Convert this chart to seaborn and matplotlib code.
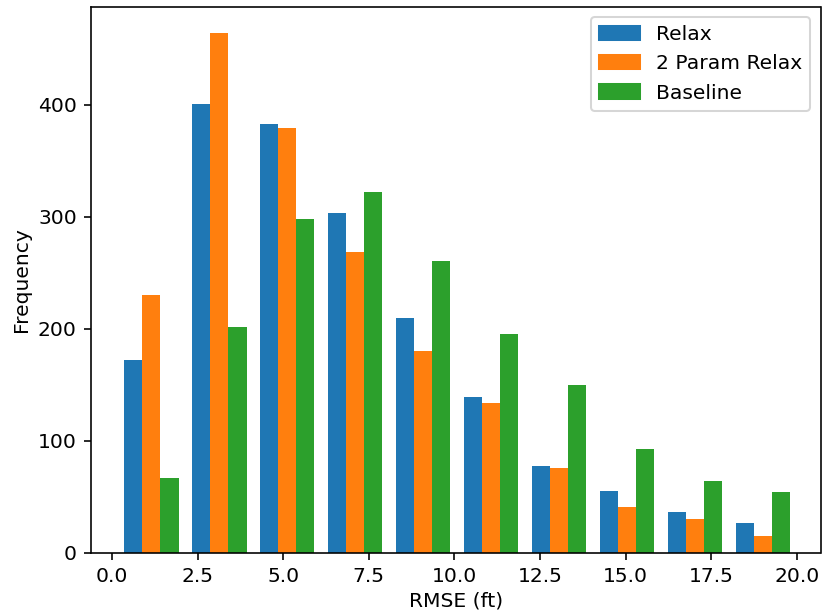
import numpy as np
import pandas as pd
import matplotlib
matplotlib.use("Agg")
import matplotlib.pyplot as plt
import matplotlib.patches as mpatches
import seaborn as sns

# ---- data ----
series_names = ["Relax", "2 Param Relax", "Baseline"]
bin_range = (0.16, 20.0)
n_bins = 10
relax = [172, 401, 383, 303, 210, 139, 78, 55, 37, 27]
two_param_relax = [230, 464, 379, 269, 180, 134, 76, 41, 30, 15]
baseline = [67, 202, 298, 322, 261, 195, 150, 93, 64, 54]
colors = ["#1f77b4", "#ff7f0e", "#2ca02c"]

bin_edges = np.linspace(bin_range[0], bin_range[1], n_bins + 1)
centers = (bin_edges[:-1] + bin_edges[1:]) / 2
rows = []
for name, vals in zip(series_names, [relax, two_param_relax, baseline]):
    for c, v in zip(centers, vals):
        rows.append({"rmse": c, "count": v, "series": name})
df = pd.DataFrame(rows)

dpi = 146
fig = plt.figure(figsize=(822 / dpi, 614 / dpi), dpi=dpi)
ax = fig.add_axes([91 / 822, 61 / 614, 729.5 / 822, 546 / 614])

sns.histplot(data=df, x="rmse", weights="count", hue="series",
             hue_order=series_names, palette=colors, bins=n_bins,
             binrange=bin_range,
             multiple="dodge", shrink=0.8, alpha=1, linewidth=0,
             legend=False, ax=ax)

ax.set_xlim(-0.613, 20.69)
ax.set_ylim(0, max(max(relax), max(two_param_relax), max(baseline)) * 1.05)
ax.set_xticks([0, 2.5, 5, 7.5, 10, 12.5, 15, 17.5, 20])
ax.set_xlabel("RMSE (ft)", labelpad=2.5)
ax.set_ylabel("Frequency", labelpad=3.5)

handles = [mpatches.Patch(color=c, label=n) for c, n in zip(colors, series_names)]
ax.legend(handles=handles, loc="upper right")

fig.savefig("out.png", dpi=dpi)
